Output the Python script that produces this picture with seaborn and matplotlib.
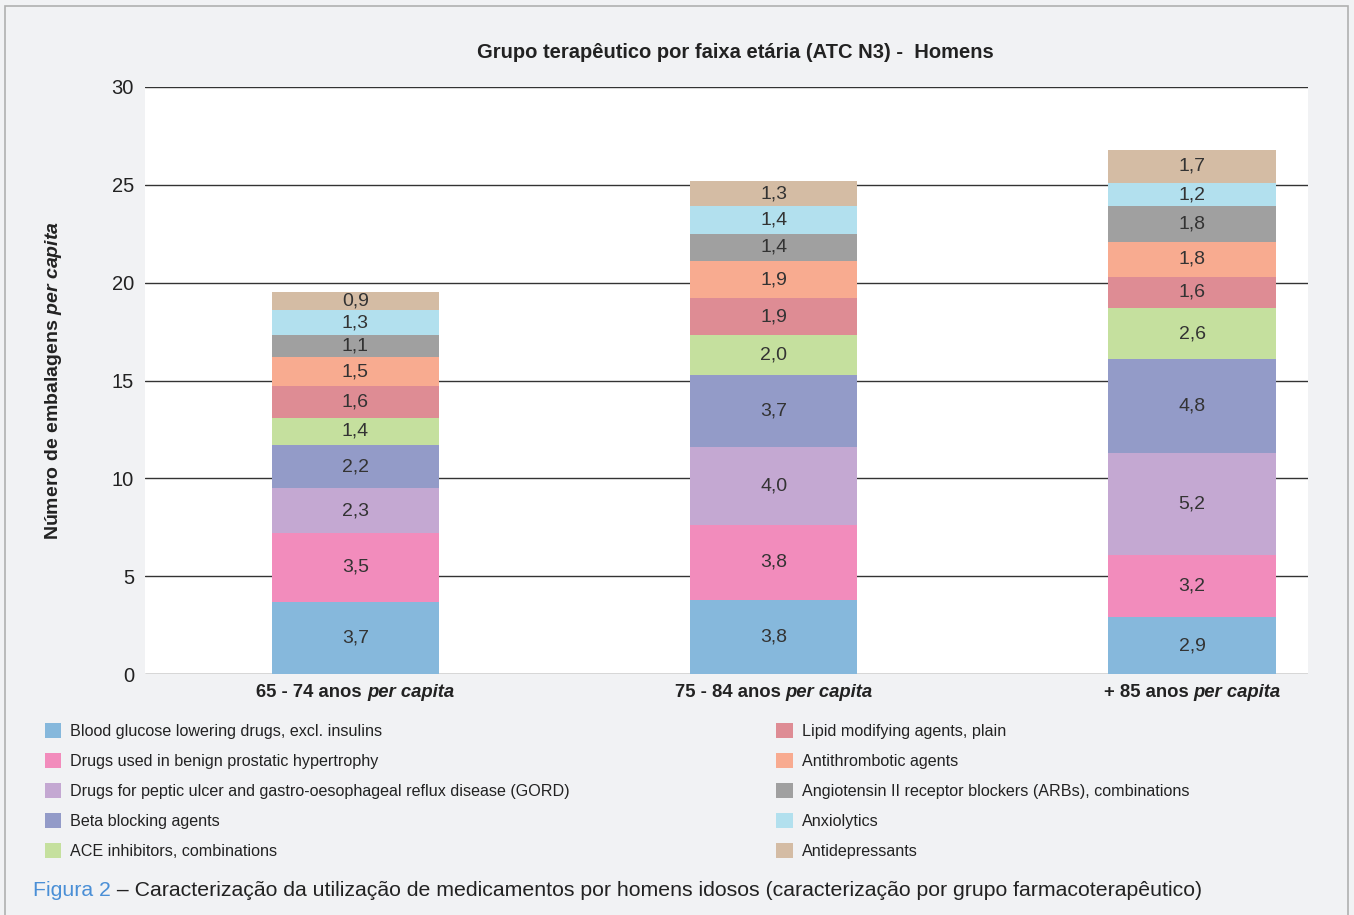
import matplotlib
matplotlib.use("Agg")
import matplotlib.pyplot as plt
import seaborn as sns
import numpy as np
import pandas as pd
from matplotlib.offsetbox import TextArea, HPacker, AnnotationBbox
from matplotlib.patches import Rectangle, Patch

categories = ["65 - 74 anos", "75 - 84 anos", "+ 85 anos"]
series_names = [
    "Blood glucose lowering drugs, excl. insulins",
    "Drugs used in benign prostatic hypertrophy",
    "Drugs for peptic ulcer and gastro-oesophageal reflux disease (GORD)",
    "Beta blocking agents",
    "ACE inhibitors, combinations",
    "Lipid modifying agents, plain",
    "Antithrombotic agents",
    "Angiotensin II receptor blockers (ARBs), combinations",
    "Anxiolytics",
    "Antidepressants",
]
blood_glucose = [3.7, 3.8, 2.9]
bph = [3.5, 3.8, 3.2]
gord = [2.3, 4.0, 5.2]
beta = [2.2, 3.7, 4.8]
ace = [1.4, 2.0, 2.6]
lipid = [1.6, 1.9, 1.6]
antithrombotic = [1.5, 1.9, 1.8]
arb = [1.1, 1.4, 1.8]
anxiolytics = [1.3, 1.4, 1.2]
antidepressants = [0.9, 1.3, 1.7]
values = [blood_glucose, bph, gord, beta, ace, lipid, antithrombotic, arb,
          anxiolytics, antidepressants]
colors = ["#86b8dc", "#f28cbc", "#c4a8d2", "#939bc8", "#c5e09e",
          "#de8c94", "#f8ab90", "#a0a0a0", "#b2e0ee", "#d4bca4"]

title = "Grupo terapêutico por faixa etária (ATC N3) -  Homens"
caption_a = "Figura 2"
caption_b = " – Caracterização da utilização de medicamentos por homens idosos (caracterização por grupo farmacoterapêutico)"

sns.set_theme(style="white")
plt.rcParams["font.family"] = ["Liberation Sans", "DejaVu Sans"]
plt.rcParams["mathtext.fontset"] = "custom"
plt.rcParams["mathtext.rm"] = "Liberation Sans"
plt.rcParams["mathtext.it"] = "Liberation Sans:italic"
plt.rcParams["mathtext.bf"] = "Liberation Sans:bold"
plt.rcParams["mathtext.bfit"] = "Liberation Sans:italic:bold"

bg = "#f1f2f4"
fig = plt.figure(figsize=(13.54, 9.15), dpi=100, facecolor=bg)
fig.patches.append(Rectangle((5/1354, -0.01), 1 - 11/1354, 1 - 6/915 + 0.01,
                             transform=fig.transFigure, facecolor="none",
                             edgecolor="#b0b0b0", linewidth=1.2))
ax = fig.add_axes([145/1354, 1 - 674/915, 1163/1354, 587/915])
ax.set_facecolor("white")

vals = np.array(values)
cum = np.cumsum(vals, axis=0)
for i in range(len(values) - 1, -1, -1):
    df = pd.DataFrame({"cat": categories, "val": cum[i]})
    sns.barplot(data=df, x="cat", y="val", color=colors[i], saturation=1,
                width=0.4, ax=ax, linewidth=0, zorder=2)

for i in range(len(values)):
    for j in range(len(categories)):
        v = vals[i, j]
        ax.text(j, cum[i, j] - v / 2, f"{v:.1f}".replace(".", ","),
                ha="center", va="center", fontsize=14, color="#333333", zorder=5)

ax.set_xlim(-0.503, 2.277)
ax.set_ylim(0, 30)
ax.set_yticks([0, 5, 10, 15, 20, 25, 30])
ax.yaxis.grid(True, color="#333333", linewidth=1.0, zorder=0)
ax.set_axisbelow(True)
for s in ax.spines.values():
    s.set_visible(False)
ax.tick_params(axis="y", labelsize=14.5, colors="#222222", length=0, pad=8)
ax.set_xticks([0, 1, 2])
ax.set_xticklabels([])
ax.tick_params(axis="x", length=0)
ax.set_xlabel("")
ax.set_ylabel(r"Número de embalagens $\mathbfit{per\ capita}$", fontsize=14,
              fontweight="bold", color="#222222", labelpad=34)

for j, c in enumerate(categories):
    t1 = TextArea(c + " ", textprops=dict(fontsize=13.3, fontweight="bold", color="#222222"))
    t2 = TextArea("per capita", textprops=dict(fontsize=13.3, fontweight="bold",
                                               style="italic", color="#222222"))
    box = HPacker(children=[t1, t2], align="baseline", pad=0, sep=0)
    ab = AnnotationBbox(box, (j, 0), xycoords=("data", "axes fraction"),
                        xybox=(0, -13), boxcoords="offset points",
                        frameon=False, box_alignment=(0.5, 0.5))
    ax.add_artist(ab)

fig.text(735/1354, 1 - 52/915, title, ha="center", va="center", fontsize=14.5,
         fontweight="bold", color="#222222")

handles = [Patch(facecolor=c, edgecolor="none") for c in colors]
common = dict(frameon=False, fontsize=11.6, handlelength=1.0, handleheight=1.0,
              handletextpad=0.6, labelspacing=0.88, labelcolor="#222222")
fig.legend(handles[:5], series_names[:5], loc="upper left",
           bbox_to_anchor=(30/1354, 1 - 709/915), **common)
fig.legend(handles[5:], series_names[5:], loc="upper left",
           bbox_to_anchor=(762/1354, 1 - 709/915), **common)

c1 = TextArea(caption_a, textprops=dict(fontsize=15.3, color="#4a8fd6"))
c2 = TextArea(caption_b, textprops=dict(fontsize=15.3, color="#222222"))
cap = HPacker(children=[c1, c2], align="baseline", pad=0, sep=0)
ab = AnnotationBbox(cap, (33/1354, 1 - 891/915), xycoords="figure fraction",
                    frameon=False, box_alignment=(0, 0.5))
fig.add_artist(ab)

fig.savefig("out.png", dpi=100, facecolor=bg)
